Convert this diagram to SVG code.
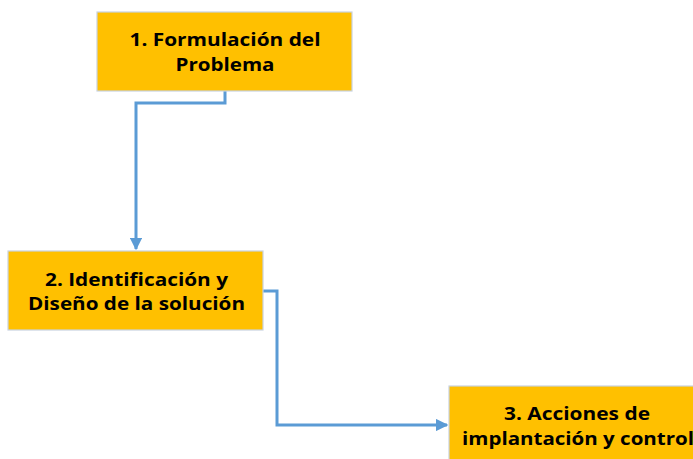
<svg xmlns="http://www.w3.org/2000/svg" width="693" height="459" viewBox="0 0 693 459">
<style>
.box{fill:#FFC000;stroke:#C9D3E0;stroke-width:1.2}
.t{font-family:"Open Sans","Liberation Sans",sans-serif;font-weight:bold;font-size:18.5px;fill:#000;text-anchor:middle}
.c{fill:none;stroke:#5B9BD5;stroke-width:3}
</style>
<defs>
<marker id="ah" viewBox="0 0 10 10" refX="9" refY="5" markerWidth="4.2" markerHeight="4.2" orient="auto" markerUnits="strokeWidth">
<path d="M0,0 L10,5 L0,10 z" fill="#5B9BD5"/>
</marker>
</defs>
<rect width="693" height="459" fill="#fff"/>
<g id="connectors">
<path class="c" d="M225,91 V103 H136 V249" marker-end="url(#ah)"/>
<path class="c" d="M263,291 H277 V425 H447" marker-end="url(#ah)"/>
</g>
<g id="n1">
<rect class="box" x="97" y="12" width="255" height="79"/>
<text class="t" x="225" y="46" textLength="191" lengthAdjust="spacingAndGlyphs">1. Formulación del</text>
<text class="t" x="225" y="71" textLength="99" lengthAdjust="spacingAndGlyphs">Problema</text>
</g>
<g id="n2">
<rect class="box" x="8" y="251" width="255" height="79"/>
<text class="t" x="136.5" y="286" textLength="183" lengthAdjust="spacingAndGlyphs">2. Identificación y</text>
<text class="t" x="136.5" y="310" textLength="217" lengthAdjust="spacingAndGlyphs">Diseño de la solución</text>
</g>
<g id="n3">
<rect class="box" x="449" y="386" width="255" height="79"/>
<text class="t" x="577" y="420" textLength="146" lengthAdjust="spacingAndGlyphs">3. Acciones de</text>
<text class="t" x="578" y="445" textLength="232" lengthAdjust="spacingAndGlyphs">implantación y control</text>
</g>
</svg>
